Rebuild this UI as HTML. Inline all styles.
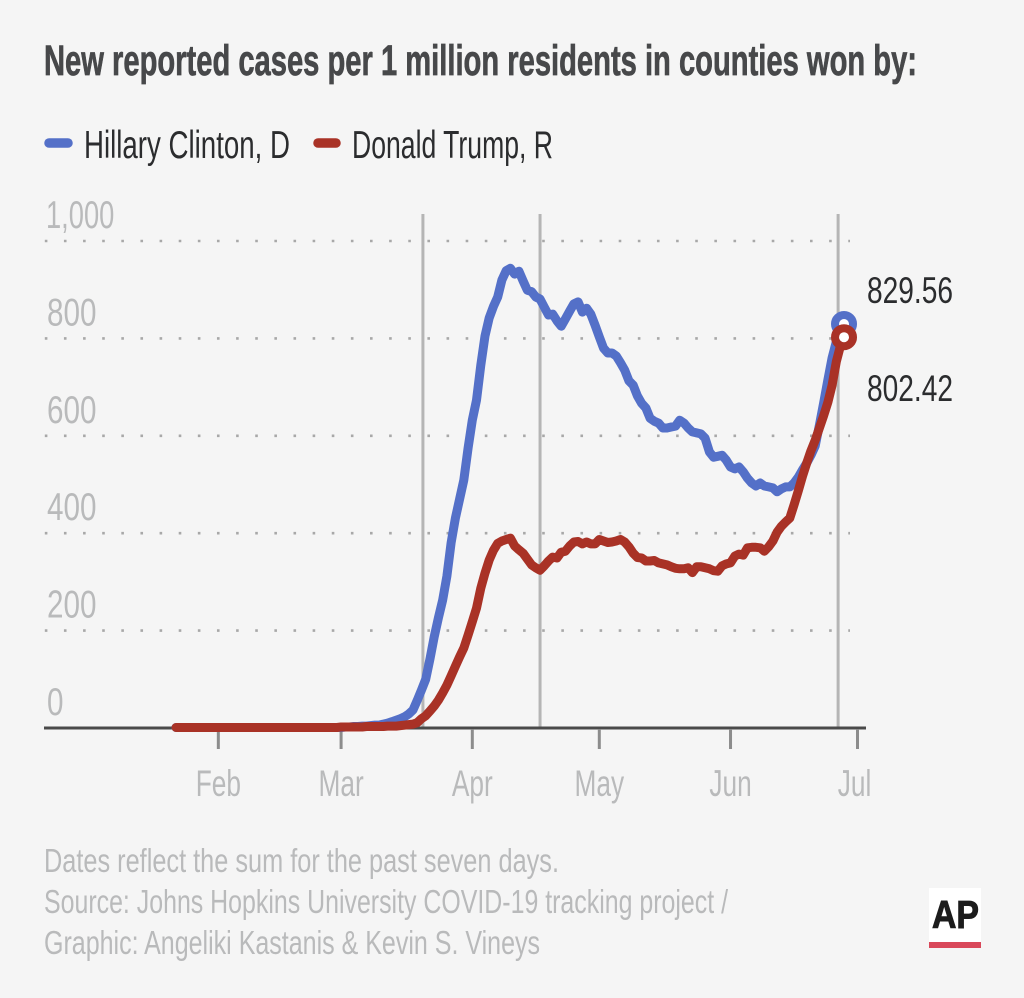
<!DOCTYPE html>
<html lang="en">
<head>
<meta charset="utf-8">
<title>New reported cases per 1 million residents</title>
<style>
html,body{margin:0;padding:0;background:#f5f5f5;width:1024px;height:998px;overflow:hidden}
svg{display:block;font-family:"Liberation Sans",sans-serif}
</style>
</head>
<body>
<svg id="chart" width="1024" height="998" viewBox="0 0 1024 998" xmlns="http://www.w3.org/2000/svg">
  <rect width="1024" height="998" fill="#f5f5f5"/>
  <text x="44" y="75" font-size="43" font-weight="700" fill="#47484a" stroke="#47484a" stroke-width="0.7" textLength="873" lengthAdjust="spacingAndGlyphs">New reported cases per 1 million residents in counties won by:</text>

  <line x1="49" y1="143" x2="68" y2="143" stroke="#5470c8" stroke-width="9.5" stroke-linecap="round"/>
  <text x="84" y="158" font-size="39" fill="#2b2c2e" textLength="206" lengthAdjust="spacingAndGlyphs">Hillary Clinton, D</text>
  <line x1="318" y1="143" x2="336" y2="143" stroke="#a93226" stroke-width="9.5" stroke-linecap="round"/>
  <text x="352" y="158" font-size="39" fill="#2b2c2e" textLength="201" lengthAdjust="spacingAndGlyphs">Donald Trump, R</text>

  <g id="grid"></g>
  <g id="events"></g>
  <g id="axis"></g>
  <g id="series"></g>
  <g id="markers"></g>

  <text x="44" y="872" font-size="33" fill="#b9babb" textLength="515" lengthAdjust="spacingAndGlyphs">Dates reflect the sum for the past seven days.</text>
  <text x="44" y="913" font-size="33" fill="#b9babb" textLength="684" lengthAdjust="spacingAndGlyphs">Source: Johns Hopkins University COVID-19 tracking project /</text>
  <text x="44" y="954" font-size="33" fill="#b9babb" textLength="496" lengthAdjust="spacingAndGlyphs">Graphic: Angeliki Kastanis &amp; Kevin S. Vineys</text>

  <g>
    <rect x="929" y="888" width="52" height="60" fill="#ffffff"/>
    <rect x="929" y="942" width="52" height="6" fill="#d9485a"/>
    <text x="932" y="928" font-size="39" font-weight="700" fill="#1c1c1c" textLength="47" lengthAdjust="spacingAndGlyphs" stroke="#1c1c1c" stroke-width="1">AP</text>
  </g>
</svg>
<script>
// Daily series: first value is 2020-01-22, one value per day through 2020-06-28.
const startDate = '2020-01-22';
const clintonCases = [
  1,1,1,1,1,1,1,1,1,1,1,1,1,1,1,1,1,1,1,1,
  1,1,1,1,1,1,1,1,1,1,1,1,1,1,1,1,1,1,1,1,
  2,2,3,3,4,4,5,6,6,8,10,13,16,19,23,29,37,57,78,100,
  142,187,226,263,312,380,431,470,509,575,632,673,745,805,842,866,885,920,939,944,
  932,938,918,899,896,885,881,864,848,850,836,825,840,856,871,875,854,862,850,827,
  803,780,770,770,764,750,735,713,704,682,667,657,636,630,626,616,616,618,620,632,
  626,616,608,606,604,595,567,556,558,560,550,536,532,536,526,513,503,497,503,497,
  495,493,485,491,495,495,503,515,530,544,560,579,622,667,715,760,793,815,829.56
];
const trumpCases = [
  1,1,1,1,1,1,1,1,1,1,1,1,1,1,1,1,1,1,1,1,
  1,1,1,1,1,1,1,1,1,1,1,1,1,1,1,1,1,1,1,2,
  2,2,2,2,2,3,3,3,3,3,4,4,4,5,6,7,8,11,19,25,
  35,45,57,72,88,107,127,146,164,191,218,246,287,318,345,365,379,384,387,390,
  374,366,359,347,335,329,324,333,343,351,349,361,363,374,382,383,378,382,378,378,
  387,384,381,382,384,387,382,372,359,350,349,343,343,344,339,337,335,331,328,327,
  327,329,319,331,331,329,327,323,322,333,337,339,353,357,355,370,371,371,370,363,
  372,384,402,414,423,431,458,487,517,544,569,591,616,641,669,704,752,786,802.42
];
const yTickValues = [0, 200, 400, 600, 800, 1000];
const yTickLabels = ['0', '200', '400', '600', '800', '1,000'];
const monthTickDates = ['2020-02-01', '2020-03-01', '2020-04-01', '2020-05-01', '2020-06-01', '2020-07-01'];
const monthTickLabels = ['Feb', 'Mar', 'Apr', 'May', 'Jun', 'Jul'];
const eventDates = ['2020-03-20T08:00Z', '2020-04-17T00:00Z', '2020-06-26T10:00Z'];

const NS = 'http://www.w3.org/2000/svg';
const DAY = 86400000;
function dayIndex(dateStr) {
  return (Date.parse(dateStr) - Date.parse(startDate)) / DAY;
}
function xScale(index) {
  return 176 + index * 4.233;
}
function yScale(value) {
  return 728 - value * 0.487;
}
function make(tag, attrs, parent) {
  const el = document.createElementNS(NS, tag);
  for (const k in attrs) el.setAttribute(k, attrs[k]);
  parent.appendChild(el);
  return el;
}
function linePath(values) {
  return values.map(function (v, i) {
    return (i ? 'L' : 'M') + xScale(i).toFixed(1) + ' ' + yScale(v).toFixed(1);
  }).join('');
}

const gridG = document.getElementById('grid');
const eventsG = document.getElementById('events');
const axisG = document.getElementById('axis');
const seriesG = document.getElementById('series');
const markersG = document.getElementById('markers');

yTickValues.forEach(function (v, i) {
  const y = yScale(v);
  if (v !== 0) {
    const grid = make('line', {x1: 44.8, x2: 850, y1: y, y2: y, stroke: '#a8a8a8', 'stroke-width': 2.6, 'stroke-dasharray': '2.6 16.53'}, gridG);
    
    
  }
  const text = yTickLabels[i];
  const wide = text.length > 3;
  const label = make('text', {transform: 'translate(' + (wide ? 46 : 47) + ' ' + (y - 13) + ') scale(' + (wide ? 0.7 : 0.76) + ' 1)', 'font-size': 39, fill: '#b9babb'}, axisG);
  label.textContent = text;
  
  
});

eventDates.forEach(function (d) {
  const x = xScale(dayIndex(d));
  const rule = make('line', {x1: x, x2: x, y1: 214, y2: 727, stroke: '#b5b5b5', 'stroke-width': 3}, eventsG);
  
  
});

const xAxisLine = make('line', {x1: 44, x2: 866, y1: 728, y2: 728, stroke: '#4a4a4a', 'stroke-width': 3}, axisG);



monthTickDates.forEach(function (d, i) {
  const x = xScale(dayIndex(d));
  const tick = make('line', {x1: x, x2: x, y1: 729, y2: 749, stroke: '#8c8c8c', 'stroke-width': 3}, axisG);
  
  
  const label = make('text', {transform: 'translate(' + (i === 5 ? x - 3 : x) + ' 796) scale(0.71 1)', 'font-size': 37, 'text-anchor': 'middle', fill: '#b9babb'}, axisG);
  label.textContent = monthTickLabels[i];
  
  
});

const clintonLine = make('path', {d: linePath(clintonCases), fill: 'none', stroke: '#5470c8', 'stroke-width': 9, 'stroke-linejoin': 'round', 'stroke-linecap': 'round'}, seriesG);


const trumpLine = make('path', {d: linePath(trumpCases), fill: 'none', stroke: '#a93226', 'stroke-width': 9, 'stroke-linejoin': 'round', 'stroke-linecap': 'round'}, seriesG);



const lastI = clintonCases.length - 1;
const clintonEnd = clintonCases[lastI];
const trumpEnd = trumpCases[trumpCases.length - 1];
const clintonDot = make('circle', {cx: xScale(lastI) - 0.8, cy: yScale(clintonEnd), r: 9, fill: '#ffffff', stroke: '#5470c8', 'stroke-width': 8}, markersG);


const trumpDot = make('circle', {cx: xScale(trumpCases.length - 1) - 0.8, cy: yScale(trumpEnd), r: 9, fill: '#ffffff', stroke: '#a93226', 'stroke-width': 8}, markersG);



const clintonValue = make('text', {x: 867, y: 303, 'font-size': 37, fill: '#2b2c2e', textLength: 86, lengthAdjust: 'spacingAndGlyphs'}, markersG);
clintonValue.textContent = clintonEnd.toFixed(2);


const trumpValue = make('text', {x: 867, y: 401, 'font-size': 37, fill: '#2b2c2e', textLength: 86, lengthAdjust: 'spacingAndGlyphs'}, markersG);
trumpValue.textContent = trumpEnd.toFixed(2);


</script>
</body>
</html>
